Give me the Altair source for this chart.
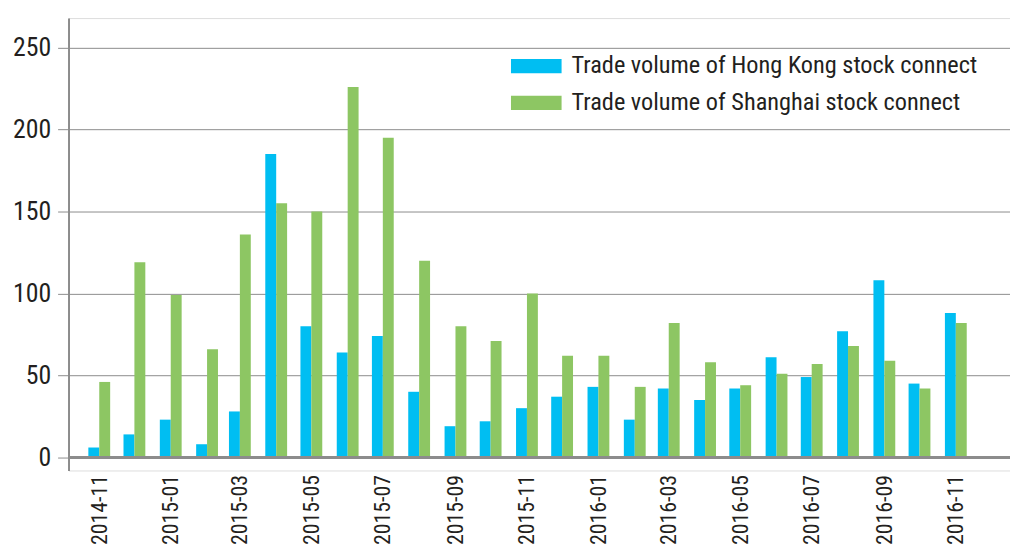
import altair as alt
import pandas as pd

months = ["2014-11", "2014-12", "2015-01", "2015-02", "2015-03", "2015-04", "2015-05",
          "2015-06", "2015-07", "2015-08", "2015-09", "2015-10", "2015-11", "2015-12",
          "2016-01", "2016-02", "2016-03", "2016-04", "2016-05", "2016-06", "2016-07",
          "2016-08", "2016-09", "2016-10", "2016-11"]
hk_volume = [6, 14, 23, 8, 28, 185, 80, 64, 74, 40, 19, 22, 30, 37, 43, 23, 42, 35, 42,
             61, 49, 77, 108, 45, 88]
sh_volume = [46, 119, 99, 66, 136, 155, 150, 226, 195, 120, 80, 71, 100, 62, 62, 43, 82,
             58, 44, 51, 57, 68, 59, 42, 82]
series_names = ["Trade volume of Hong Kong stock connect",
                "Trade volume of Shanghai stock connect"]
series_colors = ["#00BEF2", "#8DC663"]
tick_labels = ["2014-11", "2015-01", "2015-03", "2015-05", "2015-07", "2015-09", "2015-11",
               "2016-01", "2016-03", "2016-05", "2016-07", "2016-09", "2016-11"]
y_ticks = [0, 50, 100, 150, 200, 250]

rows = []
for m, a, b in zip(months, hk_volume, sh_volume):
    d = m + "-01T00:00:00"
    rows.append({"date": d, "series": series_names[0], "value": a})
    rows.append({"date": d, "series": series_names[1], "value": b})
df = pd.DataFrame(rows)

tick_dates = [alt.DateTime(year=int(s[:4]), month=int(s[5:]), date=1) for s in tick_labels]

FONT = "Liberation Sans Narrow, Roboto Condensed, DejaVu Sans Condensed, Liberation Sans"
GRID = "#8c8c8c"
TEXT = "#231f20"

x_enc = alt.X("date:T", title=None,
              scale=alt.Scale(domain=[alt.DateTime(year=2014, month=10, date=10),
                                      alt.DateTime(year=2016, month=12, date=13)],
                              nice=False),
              axis=alt.Axis(values=tick_dates, format="%Y-%m", labelAngle=-90,
                            domain=False, ticks=False, labelPadding=4, labelFont=FONT,
                            labelFontSize=22, labelColor=TEXT, grid=False,
                            labelOverlap=False))
y_enc = alt.Y("value:Q", title=None,
              scale=alt.Scale(domain=[-8, 268], nice=False, zero=False),
              axis=alt.Axis(values=y_ticks, grid=True, gridColor=GRID, gridWidth=1,
                            domainColor=GRID, domainWidth=2, tickColor=GRID, tickSize=11,
                            tickWidth=1, labelPadding=7, labelFont=FONT, labelFontSize=26,
                            labelColor=TEXT))
color_enc = alt.Color("series:N", sort=series_names,
                      scale=alt.Scale(domain=series_names, range=series_colors),
                      legend=alt.Legend(title=None, orient="none", legendX=446, legendY=23,
                                        symbolType="M-1,-0.284H1V0.284H-1Z",
                                        symbolSize=2601, symbolStrokeWidth=0,
                                        labelFont=FONT, labelFontSize=24.5,
                                        labelColor=TEXT, labelOffset=10,
                                        rowPadding=-1, padding=0, labelLimit=600))

base = alt.Chart(df).encode(x=x_enc, y=y_enc, color=color_enc)

hk_bars = base.transform_filter(alt.datum.series == series_names[0]).mark_bar(
    width=11, xOffset=-5.5)
sh_bars = base.transform_filter(alt.datum.series == series_names[1]).mark_bar(
    width=11, xOffset=5.5)

zero_line = alt.Chart(df).mark_rule(color=GRID, strokeWidth=2.5).encode(y=alt.datum(0))

chart = alt.layer(hk_bars, sh_bars, zero_line).properties(
    width=949, height=456,
    autosize=alt.AutoSizeParams(type="none"),
    padding={"left": 61, "top": 8, "right": 0, "bottom": 75},
).configure_view(strokeWidth=0, stroke="transparent").configure(background="white")

chart.save("out.html", embed_options={"renderer": "svg", "actions": False})
